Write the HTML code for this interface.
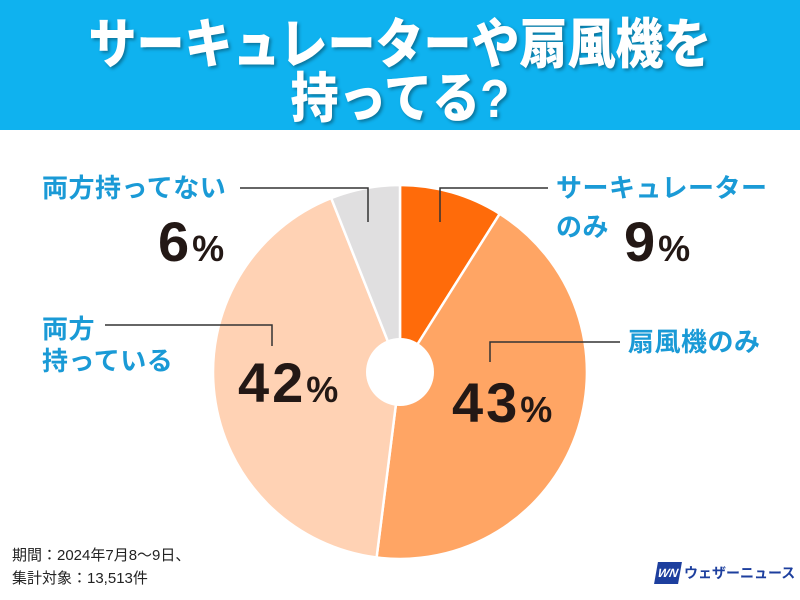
<!DOCTYPE html>
<html><head><meta charset="utf-8"><style>
body{margin:0;width:800px;height:600px;overflow:hidden;background:#fff;font-family:"Liberation Sans","Noto Sans CJK JP",sans-serif;}
.hdr{position:absolute;left:0;top:0;width:800px;height:130px;background:#0fb2ef;}
.t{position:absolute;left:0;width:800px;text-align:center;color:#fff;font-weight:900;font-size:48px;line-height:1;text-shadow:2px 2px 3px rgba(0,0,0,.35);transform:scaleY(1.12);}
.lb{position:absolute;color:#1a9ad6;font-weight:700;font-size:26px;line-height:1;white-space:nowrap;letter-spacing:0.5px;}
.pc{position:absolute;color:#231815;font-weight:700;font-size:56px;line-height:1;white-space:nowrap;letter-spacing:3px;}
.pc span{font-size:36px;}
.ft{position:absolute;left:12px;font-size:15px;color:#222;line-height:1;}
</style></head><body>
<div class="hdr"></div>
<div class="t" style="top:22px">サーキュレーターや扇風機を</div>
<div class="t" style="top:76px">持ってる?</div>
<svg width="800" height="600" style="position:absolute;left:0;top:0">
<g stroke="#fff" stroke-width="2.5">
<path d="M400,372 L400,185 A187,187 0 0 1 499.7,213.8 Z" fill="#ff6b0a"/>
<path d="M400,372 L499.7,213.8 A187,187 0 0 1 376.6,557.5 Z" fill="#ffa564"/>
<path d="M400,372 L376.6,557.5 A187,187 0 0 1 331.2,198.1 Z" fill="#ffd2b4"/>
<path d="M400,372 L331.2,198.1 A187,187 0 0 1 400,185 Z" fill="#e0dfe0"/>
</g>
<circle cx="400" cy="372" r="34" fill="#fff"/>
<g stroke="#333" stroke-width="1.5" fill="none">
<polyline points="240,188 368,188 368,222"/>
<polyline points="548,188 440,188 440,222"/>
<polyline points="620,342 490,342 490,362"/>
<polyline points="105,325 272,325 272,346"/>
</g>
</svg>
<div class="lb" style="left:42px;top:175px">両方持ってない</div>
<div class="pc" style="left:158px;top:214px">6<span>%</span></div>
<div class="lb" style="left:556px;top:175px">サーキュレーター</div>
<div class="lb" style="left:556px;top:214px">のみ</div>
<div class="pc" style="left:624px;top:214px">9<span>%</span></div>
<div class="lb" style="left:628px;top:329px">扇風機のみ</div>
<div class="lb" style="left:42px;top:316px">両方</div>
<div class="lb" style="left:42px;top:348px">持っている</div>
<div class="pc" style="left:238px;top:355px">42<span>%</span></div>
<div class="pc" style="left:452px;top:375px">43<span>%</span></div>
<div class="ft" style="top:548px">期間：2024年7月8～9日、</div>
<div class="ft" style="top:571px">集計対象：13,513件</div>
<div style="position:absolute;left:656px;top:562px;width:24px;height:22px;background:#1d3f9e;transform:skewX(-10deg);color:#fff;font-weight:900;font-size:12px;line-height:22px;text-align:center;font-style:italic">WN</div>
<div style="position:absolute;left:684px;top:564px;color:#1d3f9e;font-weight:700;font-size:14px;line-height:18px;white-space:nowrap">ウェザーニュース</div>
</body></html>
